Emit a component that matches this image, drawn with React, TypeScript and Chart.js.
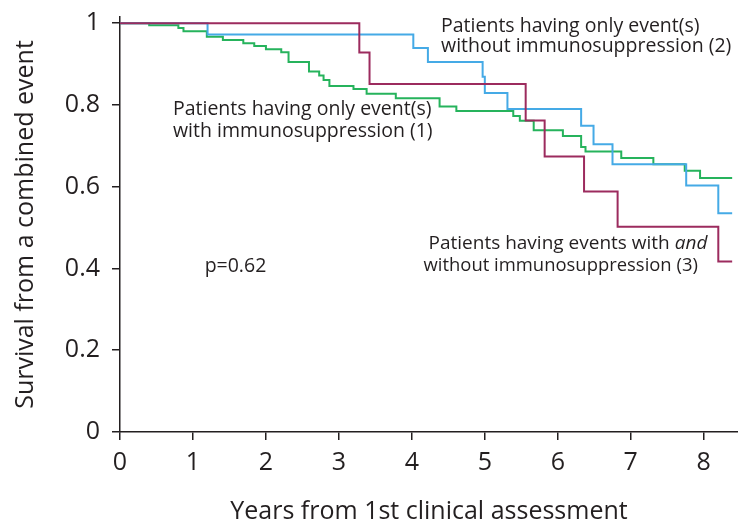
import React, { useEffect, useRef } from "react";
import { Chart, registerables } from "chart.js";

Chart.register(...registerables);

// ---- data (Kaplan–Meier steps: time of drop -> survival after drop) ----
const group1Times = [0, 0.40, 0.80, 0.87, 1.19, 1.41, 1.69, 1.84, 2.00, 2.21, 2.31, 2.59, 2.73, 2.79, 2.87, 3.20, 3.38, 3.78, 4.38, 4.61, 5.39, 5.48, 5.67, 6.07, 6.32, 6.38, 6.87, 7.31, 7.74, 7.95, 8.39];
const group1Survival = [1, 0.995, 0.988, 0.980, 0.967, 0.959, 0.951, 0.944, 0.936, 0.929, 0.905, 0.882, 0.872, 0.861, 0.846, 0.839, 0.827, 0.816, 0.796, 0.785, 0.773, 0.761, 0.738, 0.724, 0.697, 0.686, 0.670, 0.655, 0.639, 0.621, 0.621];

const group2Times = [0, 1.20, 4.02, 4.22, 4.97, 5.00, 5.31, 6.32, 6.49, 6.75, 7.76, 8.20, 8.39];
const group2Survival = [1, 0.972, 0.939, 0.905, 0.869, 0.829, 0.790, 0.749, 0.704, 0.655, 0.603, 0.535, 0.535];

const group3Times = [0, 3.28, 3.42, 5.56, 5.82, 6.36, 6.82, 8.20, 8.39];
const group3Survival = [1, 0.928, 0.851, 0.762, 0.674, 0.588, 0.502, 0.417, 0.417];

const xTickValues = [0, 1, 2, 3, 4, 5, 6, 7, 8];
const yTickValues = [0, 0.2, 0.4, 0.6, 0.8, 1];

const xAxisTitle = "Years from 1st clinical assessment";
const yAxisTitle = "Survival from a combined event";

const label1Lines = ["Patients having only event(s)", "with immunosuppression (1)"];
const label2Lines = ["Patients having only event(s)", "without immunosuppression (2)"];
const label3Line1 = ["Patients having events with ", "and"];
const label3Line2 = "without immunosuppression (3)";
const pValueText = "p=0.62";

// ---- styles ----
const FONT = "'Open Sans', 'Noto Sans', sans-serif";
const TEXT_COLOR = "#231f20";
const AXIS_COLOR = "#231f20";
const GREEN = "#26b35c";
const BLUE = "#45aae6";
const RED = "#9c2b5e";

const toPoints = (t: number[], s: number[]) => t.map((v, i) => ({ x: v, y: s[i] }));

const annotationPlugin = {
  id: "kmAnnotations",
  afterDatasetsDraw(chart: any) {
    const { ctx, scales } = chart;
    const xs = scales.x;
    const ys = scales.y;
    const size = 19.5;
    ctx.save();
    ctx.fillStyle = TEXT_COLOR;
    ctx.textAlign = "left";
    ctx.textBaseline = "alphabetic";
    const put = (txt: string, xv: number, yv: number, italic = false) => {
      ctx.font = `${italic ? "italic " : ""}${size}px ${FONT}`;
      const px = xs.getPixelForValue(xv);
      const py = ys.getPixelForValue(yv);
      ctx.fillText(txt, px, py);
      return ctx.measureText(txt).width;
    };
    // label (2)
    put(label2Lines[0], 4.40, 0.979);
    put(label2Lines[1], 4.40, 0.930);
    // label (1)
    put(label1Lines[0], 0.726, 0.776);
    put(label1Lines[1], 0.726, 0.722);
    // label (3): right edges anchored
    const s3 = 19;
    ctx.font = `italic ${s3}px ${FONT}`;
    const wAnd = ctx.measureText(label3Line1[1]).width;
    ctx.font = `${s3}px ${FONT}`;
    const wMain = ctx.measureText(label3Line1[0]).width;
    const r1 = xs.getPixelForValue(8.05);
    const yb1 = ys.getPixelForValue(0.448);
    ctx.fillText(label3Line1[0], r1 - wAnd - wMain, yb1);
    ctx.font = `italic ${s3}px ${FONT}`;
    ctx.fillText(label3Line1[1], r1 - wAnd, yb1);
    ctx.font = `${s3}px ${FONT}`;
    const l2x = xs.getPixelForValue(4.16);
    const r2x = xs.getPixelForValue(7.92);
    ctx.fillText(label3Line2, l2x, ys.getPixelForValue(0.394), r2x - l2x);
    // p-value
    put(pValueText, 1.16, 0.392);
    ctx.restore();
  },
};

export default function App() {
  const canvasRef = useRef<HTMLCanvasElement | null>(null);

  useEffect(() => {
    const canvas = canvasRef.current;
    if (!canvas) return;
    const chart = new Chart(canvas, {
      type: "line",
      data: {
        datasets: [
          {
            label: "Events with and without immunosuppression (3)",
            data: toPoints(group3Times, group3Survival),
            borderColor: RED,
            borderWidth: 2,
            stepped: "before",
            pointRadius: 0,
            fill: false,
          },
          {
            label: "Only event(s) without immunosuppression (2)",
            data: toPoints(group2Times, group2Survival),
            borderColor: BLUE,
            borderWidth: 2,
            stepped: "before",
            pointRadius: 0,
            fill: false,
          },
          {
            label: "Only event(s) with immunosuppression (1)",
            data: toPoints(group1Times, group1Survival),
            borderColor: GREEN,
            borderWidth: 2,
            stepped: "before",
            pointRadius: 0,
            fill: false,
          },
        ],
      },
      options: {
        animation: false,
        responsive: false,
        maintainAspectRatio: false,
        layout: { padding: { top: 17, right: 0, left: 0, bottom: 0 } },
        plugins: {
          legend: { display: false },
          tooltip: { enabled: false },
        },
        scales: {
          x: {
            type: "linear",
            min: 0,
            max: 8.47,
            afterBuildTicks: (scale: any) => {
              scale.ticks = xTickValues.map((v) => ({ value: v }));
            },
            afterFit: (scale: any) => {
              scale.height = 95;
              scale.paddingLeft = 0;
              scale.paddingRight = 0;
            },
            ticks: {
              color: TEXT_COLOR,
              font: { family: FONT, size: 25 },
              padding: 8,
              maxRotation: 0,
              autoSkip: false,
            },
            grid: {
              display: true,
              drawOnChartArea: false,
              drawTicks: true,
              tickLength: 8,
              color: AXIS_COLOR,
              lineWidth: 1.5,
            },
            border: { display: true, color: AXIS_COLOR, width: 1.5 },
            title: {
              display: true,
              text: xAxisTitle,
              color: TEXT_COLOR,
              font: { family: FONT, size: 25 },
              padding: { top: 0, bottom: 0 },
            },
          },
          y: {
            type: "linear",
            min: 0,
            max: 1.015,
            afterBuildTicks: (scale: any) => {
              scale.ticks = yTickValues.map((v) => ({ value: v }));
            },
            afterFit: (scale: any) => {
              scale.width = 120;
              scale.paddingTop = 0;
              scale.paddingBottom = 0;
            },
            ticks: {
              color: TEXT_COLOR,
              font: { family: FONT, size: 25 },
              padding: 12,
              autoSkip: false,
              callback: (v: any) => String(Number(Number(v).toFixed(1))),
            },
            grid: {
              display: true,
              drawOnChartArea: false,
              drawTicks: true,
              tickLength: 8,
              color: AXIS_COLOR,
              lineWidth: 1.5,
            },
            border: { display: true, color: AXIS_COLOR, width: 1.5 },
            title: {
              display: true,
              text: yAxisTitle,
              color: TEXT_COLOR,
              font: { family: FONT, size: 25 },
              padding: { top: 11, bottom: 0 },
            },
          },
        },
      },
      plugins: [annotationPlugin],
    } as any);
    return () => chart.destroy();
  }, []);

  return (
    <div style={{ position: "absolute", left: 0, top: 0, width: 738, height: 527, background: "#fff" }}>
      <canvas ref={canvasRef} width={738} height={527} style={{ display: "block" }} />
    </div>
  );
}
